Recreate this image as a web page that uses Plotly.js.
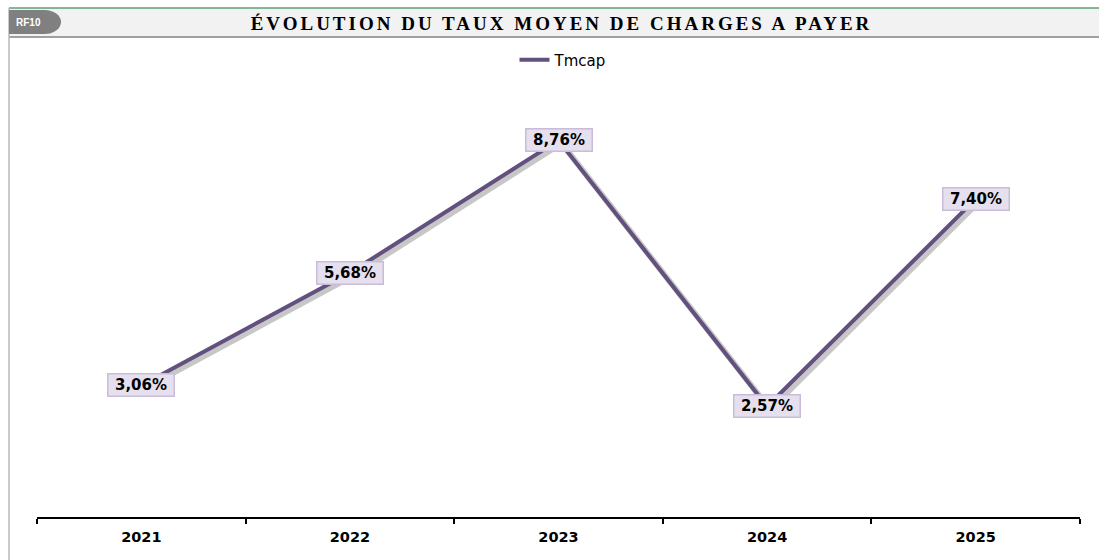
<!DOCTYPE html>
<html>
<head>
<meta charset="utf-8">
<script src="https://cdn.plot.ly/plotly-3.0.1.min.js"></script>
<style>
  html, body { margin: 0; padding: 0; background: #ffffff; }
  #chart { width: 1099px; height: 560px; }
  .gtitle { letter-spacing: 3px; }
</style>
</head>
<body>
<div id="chart"></div>
<script>
// ---- data ----
const years = ['2021', '2022', '2023', '2024', '2025'];
const tmcap = [3.06, 5.68, 8.76, 2.57, 7.40];
const seriesName = 'Tmcap';
const chartTitle = 'ÉVOLUTION DU TAUX MOYEN DE CHARGES A PAYER';
const badgeText = 'RF10';

// ---- geometry helpers (page pixels -> paper coords) ----
const W = 1099, H = 560;
const M = { l: 37, r: 16, t: 87, b: 40 };
const PW = W - M.l - M.r, PH = H - M.t - M.b;
const px = X => (X - M.l) / PW;
const py = Y => (H - M.b - Y) / PH;
const SH = 3; // shadow offset in px

const fmt = v => v.toFixed(2).replace('.', ',') + '%';

const purple = '#62507e';

const traces = [
  { // shadow
    x: years, y: tmcap, xaxis: 'x', yaxis: 'y',
    type: 'scatter', mode: 'lines',
    line: { color: 'rgba(70,70,70,0.3)', width: 6 },
    showlegend: false, hoverinfo: 'skip'
  },
  { // main
    x: years, y: tmcap, xaxis: 'x2', yaxis: 'y2',
    type: 'scatter', mode: 'lines', name: seriesName,
    line: { color: purple, width: 4 },
    showlegend: true
  }
];

// category axes: annotations positioned by category index
const annotations = years.map((yr, i) => ({
  x: i, y: tmcap[i], xref: 'x2', yref: 'y2',
  text: fmt(tmcap[i]), showarrow: false,
  xanchor: 'center', yanchor: 'middle',
  font: { family: 'DejaVu Sans', size: 15, color: '#000000', weight: 'bold' },
  bgcolor: '#e6e0ee', bordercolor: '#c8bcda', borderwidth: 1.5, borderpad: 1.5,
  width: 62, height: 18
}));
annotations.push({
  x: px(28), y: py(22), xref: 'paper', yref: 'paper',
  text: badgeText, showarrow: false,
  font: { family: 'Liberation Sans', size: 10, color: '#ffffff', weight: 'bold' },
  xanchor: 'center', yanchor: 'middle'
});

const shapes = [
  // header bar
  { type: 'rect', xref: 'paper', yref: 'paper', x0: px(9), x1: px(1099), y0: py(37), y1: py(8),
    fillcolor: '#f2f2f2', line: { width: 0 }, layer: 'below' },
  // green top line
  { type: 'line', xref: 'paper', yref: 'paper', x0: px(9), x1: px(1099), y0: py(8), y1: py(8),
    line: { color: '#5c9e72', width: 1.5 } },
  // grey bottom of header
  { type: 'line', xref: 'paper', yref: 'paper', x0: px(9), x1: px(1099), y0: py(37), y1: py(37),
    line: { color: '#a0a0a0', width: 2 } },
  // left border
  { type: 'line', xref: 'paper', yref: 'paper', x0: px(9), x1: px(9), y0: py(8), y1: py(560),
    line: { color: '#b8b8b8', width: 1.5 } },
  // badge
  { type: 'rect', xref: 'paper', yref: 'paper', x0: px(9), x1: px(45), y0: py(34), y1: py(10),
    fillcolor: '#808080', line: { width: 0 } },
  { type: 'circle', xref: 'paper', yref: 'paper', x0: px(28), x1: px(61), y0: py(34), y1: py(10),
    fillcolor: '#808080', line: { width: 0 } }
];

const layout = {
  width: W, height: H,
  margin: M,
  paper_bgcolor: '#ffffff', plot_bgcolor: 'rgba(0,0,0,0)',
  title: {
    text: chartTitle,
    font: { family: 'Liberation Serif', size: 19, color: '#000000', weight: 'bold' },
    xref: 'container', yref: 'container', x: 561.5 / W, y: 1 - 23 / H,
    xanchor: 'center', yanchor: 'middle'
  },
  showlegend: true,
  legend: {
    orientation: 'h', x: px(563), xanchor: 'center', y: py(60), yanchor: 'middle',
    font: { family: 'DejaVu Sans', size: 15, color: '#000000' },
    bgcolor: 'rgba(0,0,0,0)'
  },
  xaxis: {
    type: 'category', range: [-0.5, 4.5], domain: [SH / PW, 1], anchor: 'y',
    visible: false, fixedrange: true
  },
  yaxis: {
    range: [0, 10], domain: [0, 1 - SH / PH], anchor: 'x',
    visible: false, fixedrange: true
  },
  xaxis2: {
    type: 'category', range: [-0.5, 4.5], domain: [0, 1 - SH / PW], anchor: 'y2',
    showline: true, linecolor: '#000000', linewidth: 2,
    ticks: 'outside', tickson: 'boundaries', ticklen: 5, tickwidth: 2, tickcolor: '#000000',
    ticklabelstandoff: 6,
    showgrid: false, zeroline: false,
    tickfont: { family: 'DejaVu Sans', size: 14.5, color: '#000000', weight: 'bold' },
    fixedrange: true
  },
  yaxis2: {
    range: [0, 10], domain: [SH / PH, 1], anchor: 'x2',
    visible: false, fixedrange: true
  },
  shapes: shapes,
  annotations: annotations
};

Plotly.newPlot('chart', traces, layout, { displayModeBar: false, staticPlot: true });
</script>
</body>
</html>
